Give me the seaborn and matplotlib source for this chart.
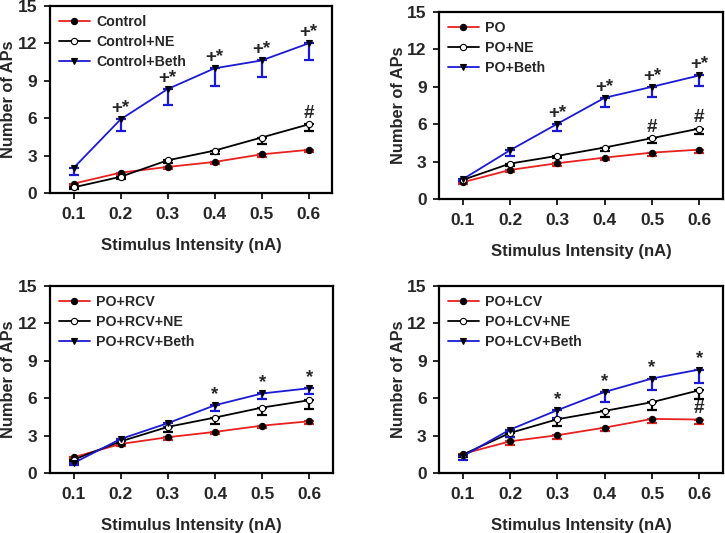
import numpy as np
import pandas as pd
import matplotlib
matplotlib.use("Agg")
import matplotlib.pyplot as plt
import seaborn as sns

# ---- data ----
stim = [0.1, 0.2, 0.3, 0.4, 0.5, 0.6]

# Panel A
a_names = ["Control", "Control+NE", "Control+Beth"]
a_base = [0.75, 1.63, 2.09, 2.49, 3.10, 3.46]
a_base_err = [0.15, 0.15, 0.2, 0.2, 0.25, 0.2]
a_ne = [0.45, 1.30, 2.62, 3.40, 4.45, 5.50]
a_ne_err = [0.1, 0.15, 0.2, 0.3, 0.5, 0.55]
a_beth = [2.0, 5.9, 8.33, 10.0, 10.63, 12.0]
a_beth_err = [0.55, 0.95, 1.3, 1.4, 1.3, 1.35]
a_marks_beth = ["", "+*", "+*", "+*", "+*", "+*"]
a_marks_ne = ["", "", "", "", "", "#"]
a_marks_base = ["", "", "", "", "", ""]

# Panel B
b_names = ["PO", "PO+NE", "PO+Beth"]
b_base = [1.34, 2.33, 2.87, 3.32, 3.72, 3.96]
b_base_err = [0.15, 0.2, 0.2, 0.2, 0.25, 0.25]
b_ne = [1.53, 2.84, 3.46, 4.13, 4.88, 5.65]
b_ne_err = [0.1, 0.2, 0.2, 0.3, 0.4, 0.43]
b_beth = [1.58, 3.91, 6.03, 8.12, 9.0, 9.91]
b_beth_err = [0.15, 0.5, 0.6, 0.78, 0.83, 0.88]
b_marks_beth = ["", "", "+*", "+*", "+*", "+*"]
b_marks_ne = ["", "", "", "", "#", "#"]
b_marks_base = ["", "", "", "", "", ""]

# Panel C
c_names = ["PO+RCV", "PO+RCV+NE", "PO+RCV+Beth"]
c_base = [1.26, 2.33, 2.87, 3.30, 3.80, 4.15]
c_base_err = [0.15, 0.15, 0.2, 0.2, 0.2, 0.25]
c_ne = [1.07, 2.54, 3.70, 4.45, 5.25, 5.84]
c_ne_err = [0.15, 0.2, 0.4, 0.48, 0.56, 0.7]
c_beth = [0.80, 2.73, 4.00, 5.44, 6.38, 6.80]
c_beth_err = [0.15, 0.2, 0.3, 0.43, 0.45, 0.45]
c_marks_beth = ["", "", "", "*", "*", "*"]
c_marks_ne = ["", "", "", "", "", ""]
c_marks_base = ["", "", "", "", "", ""]

# Panel D
d_names = ["PO+LCV", "PO+LCV+NE", "PO+LCV+Beth"]
d_base = [1.53, 2.54, 3.03, 3.64, 4.34, 4.29]
d_base_err = [0.15, 0.3, 0.3, 0.3, 0.35, 0.35]
d_ne = [1.47, 3.21, 4.31, 4.98, 5.68, 6.64]
d_ne_err = [0.15, 0.3, 0.5, 0.48, 0.6, 0.7]
d_beth = [1.34, 3.48, 5.04, 6.50, 7.58, 8.30]
d_beth_err = [0.32, 0.6, 0.6, 0.78, 0.94, 1.07]
d_marks_beth = ["", "", "*", "*", "*", "*"]
d_marks_ne = ["", "", "", "", "", ""]
d_marks_base = ["", "", "", "", "", "#"]

y_ticks = [0, 3, 6, 9, 12, 15]
x_label = "Stimulus Intensity (nA)"
y_label = "Number of APs"

sns.set_style("ticks")
plt.rcParams['font.family'] = ['Liberation Sans', 'DejaVu Sans']
plt.rcParams['font.weight'] = 'bold'

fig = plt.figure(figsize=(7.25, 5.33), dpi=100)

W = 725.0
H = 533.0
def rect(l, t, r, b):
    return [l / W, 1 - b / H, (r - l) / W, (b - t) / H]

panels = [
    (rect(50, 6, 332, 193), a_names, [a_base, a_ne, a_beth], [a_base_err, a_ne_err, a_beth_err],
     [a_marks_base, a_marks_ne, a_marks_beth]),
    (rect(439, 12, 723, 199), b_names, [b_base, b_ne, b_beth], [b_base_err, b_ne_err, b_beth_err],
     [b_marks_base, b_marks_ne, b_marks_beth]),
    (rect(50, 286, 333, 473), c_names, [c_base, c_ne, c_beth], [c_base_err, c_ne_err, c_beth_err],
     [c_marks_base, c_marks_ne, c_marks_beth]),
    (rect(439, 286, 723, 473), d_names, [d_base, d_ne, d_beth], [d_base_err, d_ne_err, d_beth_err],
     [d_marks_base, d_marks_ne, d_marks_beth]),
]

line_colors = ["#e8201e", "black", "#1a1ad6"]
mfc = ["black", "white", "black"]
markers = ["o", "o", "v"]
msizes = [4.5, 4.5, 4]

for pos, names, series, errs, marks in panels:
    ax = fig.add_axes(pos)
    for i in range(3):
        df = pd.DataFrame({"x": stim, "y": series[i]})
        ax.errorbar(stim, series[i], yerr=[errs[i], [0] * len(stim)], fmt="none",
                    ecolor=line_colors[i], elinewidth=1.6, capsize=3.5, capthick=1.6, zorder=2)
        sns.lineplot(data=df, x="x", y="y", ax=ax, color=line_colors[i], linewidth=1.3,
                     marker=markers[i], markersize=msizes[i], markerfacecolor=mfc[i],
                     markeredgecolor="black", markeredgewidth=0.8, label=names[i], zorder=3)
        for xv, yv, m in zip(stim, series[i], marks[i]):
            if m:
                ax.annotate(m, (xv, yv), xytext=(0, 1.5), textcoords="offset points",
                            ha="center", va="bottom", fontsize=13.5, fontweight="bold")
    ax.set_xlim(0.05, 0.65)
    ax.set_ylim(0, 15)
    ax.set_xticks(stim)
    ax.set_xticklabels([f"{v:.1f}" for v in stim], fontsize=12.5, fontweight="bold")
    ax.set_yticks(y_ticks)
    ax.set_yticklabels([str(v) for v in y_ticks], fontsize=12.5, fontweight="bold")
    ax.set_xlabel(x_label, fontsize=12, fontweight="bold", labelpad=11.5)
    ax.set_ylabel(y_label, fontsize=11.8, fontweight="bold")
    bb = ax.get_position()
    ax.yaxis.set_label_coords(-33.5 / (bb.width * W), 0.5)
    for s in ax.spines.values():
        s.set_visible(True)
        s.set_linewidth(1.6)
        s.set_color("black")
    ax.tick_params(axis="both", direction="out", length=4, width=1.2, color="black", pad=5)
    ax.tick_params(axis="x", pad=6)
    leg = ax.legend(loc="upper left", frameon=False, fontsize=10.2, handlelength=2.2,
                    handletextpad=0.45, labelspacing=0.45, borderaxespad=0.3, borderpad=0.3)
    for t in leg.get_texts():
        t.set_fontweight("bold")

fig.savefig("out.png", dpi=100)
